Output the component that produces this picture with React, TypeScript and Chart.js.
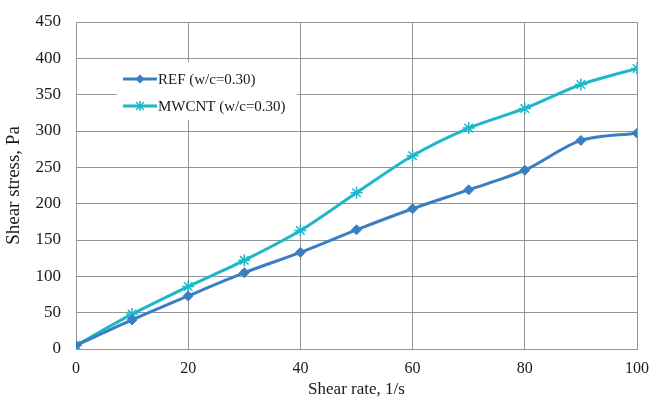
import React, { useEffect, useRef } from "react";
import { Chart, registerables } from "chart.js";

Chart.register(...registerables);

const shearRate = [0, 10, 20, 30, 40, 50, 60, 70, 80, 90, 100];
const refStress = [5, 40, 73, 105, 133, 164, 193, 219, 246, 287, 297];
const mwcntStress = [5, 48, 86, 122, 163, 215, 266, 304, 331, 364, 386];
const seriesNames = ["REF (w/c=0.30)", "MWCNT (w/c=0.30)"];
const xTitle = "Shear rate, 1/s";
const yTitle = "Shear stress, Pa";

const REF_COLOR = "#3a7fc3";
const MW_COLOR = "#1fb6c9";
const GRID = "#8f979b";
const TEXT = "#1a1a1a";
const FONT = "'Liberation Serif', 'Times New Roman', serif";

const legendPlugin = {
  id: "boxLegend",
  afterDatasetsDraw(chart: any) {
    const ctx = chart.ctx;
    ctx.save();
    ctx.fillStyle = "#ffffff";
    ctx.fillRect(117, 62, 180, 58);
    const rows = [
      { y: 79, color: REF_COLOR, style: "diamond", label: seriesNames[0] },
      { y: 106, color: MW_COLOR, style: "star", label: seriesNames[1] },
    ];
    rows.forEach((r) => {
      ctx.strokeStyle = r.color;
      ctx.lineWidth = 3;
      ctx.beginPath();
      ctx.moveTo(123, r.y);
      ctx.lineTo(157, r.y);
      ctx.stroke();
      const cx = 140;
      if (r.style === "diamond") {
        ctx.fillStyle = r.color;
        ctx.beginPath();
        ctx.moveTo(cx, r.y - 4.5);
        ctx.lineTo(cx + 4.5, r.y);
        ctx.lineTo(cx, r.y + 4.5);
        ctx.lineTo(cx - 4.5, r.y);
        ctx.closePath();
        ctx.fill();
      } else {
        ctx.lineWidth = 1.5;
        ctx.beginPath();
        ctx.moveTo(cx - 4, r.y - 4);
        ctx.lineTo(cx + 4, r.y + 4);
        ctx.moveTo(cx + 4, r.y - 4);
        ctx.lineTo(cx - 4, r.y + 4);
        ctx.moveTo(cx, r.y - 5);
        ctx.lineTo(cx, r.y + 5);
        ctx.stroke();
      }
      ctx.fillStyle = TEXT;
      ctx.font = `15px ${FONT}`;
      ctx.textBaseline = "middle";
      ctx.textAlign = "left";
      ctx.fillText(r.label, 158, r.y + 1);
    });
    ctx.restore();
  },
};

export default function App() {
  const ref = useRef<HTMLCanvasElement | null>(null);
  useEffect(() => {
    if (!ref.current) return;
    const chart = new Chart(ref.current, {
      type: "line",
      data: {
        datasets: [
          {
            label: seriesNames[0],
            data: shearRate.map((x, i) => ({ x, y: refStress[i] })),
            borderColor: REF_COLOR,
            backgroundColor: REF_COLOR,
            borderWidth: 3,
            tension: 0.3,
            pointStyle: "rectRot",
            pointRadius: 5,
            pointBorderWidth: 1,
          },
          {
            label: seriesNames[1],
            data: shearRate.map((x, i) => ({ x, y: mwcntStress[i] })),
            borderColor: MW_COLOR,
            backgroundColor: MW_COLOR,
            borderWidth: 3,
            tension: 0.3,
            pointStyle: "star",
            pointRadius: 6,
            pointBorderWidth: 1.5,
          },
        ],
      },
      options: {
        responsive: false,
        animation: false,
        layout: { padding: { left: 0, top: 22, right: 13, bottom: 0 } },
        plugins: { legend: { display: false }, tooltip: { enabled: false } },
        scales: {
          x: {
            type: "linear",
            min: 0,
            max: 100,
            ticks: { stepSize: 20, color: TEXT, padding: 10, font: { family: FONT, size: 16 } },
            grid: { color: GRID, lineWidth: 1, drawTicks: false },
            border: { color: GRID, width: 1 },
            title: { display: true, text: xTitle, color: TEXT, font: { family: FONT, size: 17 }, padding: { top: 0, bottom: 0 } },
            afterFit: (s: any) => { s.height = 51; s.paddingLeft = 0; s.paddingRight = 0; },
          },
          y: {
            min: 0,
            max: 450,
            ticks: { stepSize: 50, color: TEXT, padding: 15, font: { family: FONT, size: 17 } },
            grid: { color: GRID, lineWidth: 1, drawTicks: false },
            border: { color: GRID, width: 1 },
            title: { display: true, text: yTitle, color: TEXT, font: { family: FONT, size: 19 }, padding: { top: 3, bottom: 0 } },
            afterFit: (s: any) => { s.width = 76; s.paddingTop = 0; s.paddingBottom = 0; },
          },
        },
      },
      plugins: [legendPlugin],
    } as any);
    return () => chart.destroy();
  }, []);
  return (
    <div style={{ position: "fixed", left: 0, top: 0, width: 650, height: 400, background: "#fff" }}>
      <canvas ref={ref} width={650} height={400} />
    </div>
  );
}
